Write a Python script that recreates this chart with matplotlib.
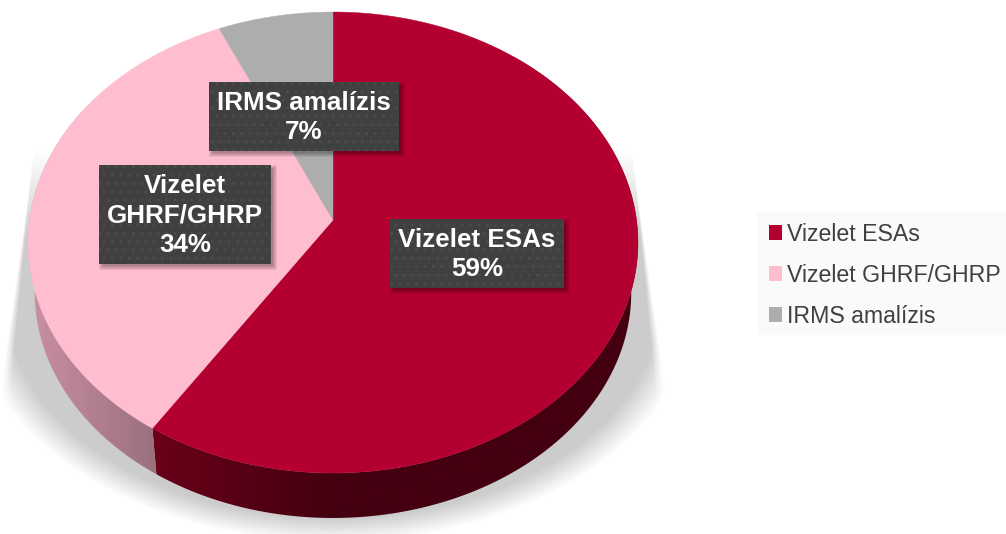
"""Hungarian pie chart in fake 3D: perspective disc, side wall, soft floor shadow."""

import numpy as np
import matplotlib
matplotlib.use("Agg")
import matplotlib.pyplot as plt
from matplotlib.colors import to_rgb
from matplotlib.patches import Patch, Polygon, Rectangle

plt.rcParams["font.family"] = ["Liberation Sans", "DejaVu Sans"]
plt.rcParams["hatch.linewidth"] = 0.8

categories = ["Vizelet ESAs", "Vizelet GHRF/GHRP", "IRMS amalízis"]
box_titles = ["Vizelet ESAs", "Vizelet\nGHRF/GHRP", "IRMS amalízis"]
values = [59.2, 34.1, 6.7]
colors = ["#b40030", "#ffbdd0", "#adadad"]

# label boxes in pixels: left, top, right, bottom
boxes = [(390, 219, 564, 288), (99, 165, 271, 264), (209, 82, 399, 151)]

W, H = 1006, 534
CX, CY = 333.0, 220.0
A, B, K = 303.5, 228.3, 0.0976
WALL_SCALE, WALL_VP = 0.978, 2518.0


def rim(t, lower=False):
    """Point on the pie rim; t is degrees clockwise from 12 o'clock."""
    t = np.radians(t)
    u, v = np.sin(t), np.cos(t)
    w = 1 + K * v
    x = CX + A * u / w
    y = CY - B * v / w
    if lower:
        x = CX + (x - CX) * WALL_SCALE
        y = WALL_VP + (y - WALL_VP) * WALL_SCALE
    return np.column_stack([x, y])


fig = plt.figure(figsize=(W / 100, H / 100), dpi=100)
ax = fig.add_axes([0, 0, 1, 1])

# floor shadow
yy, xx = np.mgrid[0:H, 0:W] + 0.5
dist = np.abs(xx - CX)
edge = 300 + np.maximum(yy - 160, -60) * 25 / 210
soft = np.clip(2 + (yy - 220) / 20, 1.5, 14)
side = np.clip((edge - dist) / soft + 0.5, 0, 1)
dy = np.maximum(yy - 300, 0)
oval = 1 - np.hypot(dist / 345, dy / 230)
bottom = np.clip(oval * 230 / 24 + 0.5, 0, 1)
top = np.clip((yy - 150) / 90, 0, 1)
alpha = side * bottom * top
shadow = np.ones((H, W, 4)) * 0.80
shadow[..., 3] = alpha
ax.imshow(shadow, extent=(0, W, H, 0), zorder=1, interpolation="bilinear")

angles = np.cumsum([0] + values) / sum(values) * 360

# side wall, one gradient per visible segment
walls = [
    (40, angles[1], 148, 645, "#6b0018", "#440010", 330),
    (angles[1], 300, 25, 165, "#cc90a6", "#9a707e", 157),
]
for t0, t1, x0, x1, c0, c1, stop in walls:
    ts = np.linspace(t0, t1, 200)
    pts = np.vstack([rim(ts), rim(ts[::-1], lower=True)])
    patch = Polygon(pts, closed=True, fc="none", ec="none")
    ax.add_patch(patch)
    grad_x = np.linspace(x0, x1, 256)
    f = np.clip((grad_x - x0) / (stop - x0), 0, 1)[None, :, None]
    grad = np.array(to_rgb(c0))[None, None, :] * (1 - f) + np.array(to_rgb(c1))[None, None, :] * f
    im = ax.imshow(grad, extent=(x0, x1, 534, 0), aspect="auto", zorder=2,
                   interpolation="bilinear")
    im.set_clip_path(patch)

# top face wedges
for i, color in enumerate(colors):
    arc = rim(np.linspace(angles[i], angles[i + 1], 300))
    pts = np.vstack([[CX, CY], arc])
    ax.add_patch(Polygon(pts, closed=True, fc=color, ec=color, lw=0.3, zorder=3))

# label boxes with soft drop shadow
for i, (l, t, r, b) in enumerate(boxes):
    for grow in range(5, 0, -1):
        ax.add_patch(Rectangle((l + 3 - grow + 2, t + 3 - grow + 2),
                               r - l + 2 * grow - 4, b - t + 2 * grow - 4,
                               fc="black", ec="none", alpha=0.07, zorder=4))
    ax.add_patch(Rectangle((l, t), r - l, b - t, fc="#404040", ec="#4c4c4c",
                           lw=0, hatch="..", zorder=5))
    ax.text((l + r) / 2, (t + b) / 2 + 1, f"{box_titles[i]}\n{values[i]:.0f}%",
            color="white", fontsize=18.7, fontweight="bold", ha="center",
            va="center", linespacing=1.28, zorder=6)

# legend panel runs off the right edge of the figure
ax.add_patch(Rectangle((757, 212), W - 757, 123, fc="#fafafa", ec="none", zorder=1.5))
handles = [Patch(fc=c, ec="none") for c in colors]
leg = ax.legend(handles, categories, loc="upper left", bbox_to_anchor=(769, 223),
                bbox_transform=ax.transData, frameon=False,
                fontsize=16.7, labelcolor="#404040", borderaxespad=0,
                handlelength=0.55, handleheight=0.6, handletextpad=0.22,
                labelspacing=0.77, borderpad=0)

ax.set_xlim(0, W)
ax.set_ylim(H, 0)
ax.axis("off")
fig.savefig("out.png", dpi=100, facecolor="white")
